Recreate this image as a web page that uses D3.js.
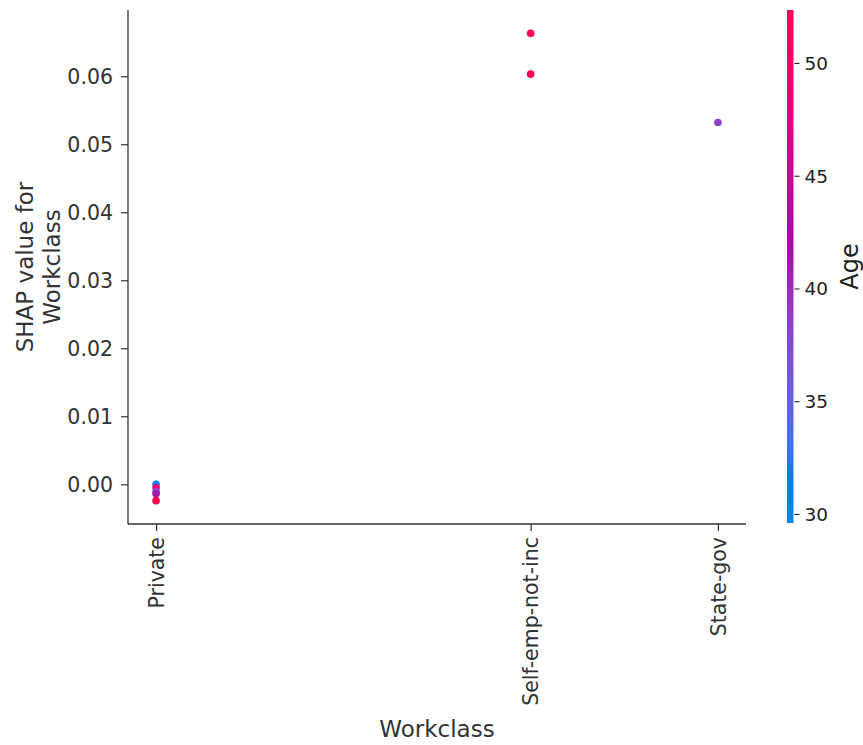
<!DOCTYPE html>
<html>
<head>
<meta charset="utf-8">
<script src="https://cdn.jsdelivr.net/npm/d3@7"></script>
<style>
  html, body { margin: 0; padding: 0; background: #fff; }
  svg { display: block; font-family: "DejaVu Sans", sans-serif; }
</style>
</head>
<body>
<svg id="chart" width="863" height="745"></svg>
<script>
// Workclass categories and their encoded positions on the x axis
const categories = ["Private", "Self-emp-not-inc", "State-gov"];
const categoryCodes = [4, 6, 7];

// One entry per sample: encoded workclass, SHAP value, age (colour)
const pointCodes = [4, 4, 4, 4, 4, 6, 6, 7];
const shapValues = [0.0000, -0.0005, -0.0011, -0.0014, -0.0024, 0.0663, 0.0603, 0.0532];
const ages = [31, 49, 37, 41, 52.3, 52.3, 52.3, 38.5];

// Tick values
const yTicks = [0.00, 0.01, 0.02, 0.03, 0.04, 0.05, 0.06];
const ageTicks = [30, 35, 40, 45, 50];
const ageRange = [29.6, 52.35];

const FONT = "DejaVu Sans";
const svg = d3.select("#chart");
const m = { left: 128, right: 746, top: 10, bottom: 524 };

// Axis domains padded by 5% like matplotlib autoscaling
function padded(ext) {
  const p = (ext[1] - ext[0]) * 0.05;
  return [ext[0] - p, ext[1] + p];
}
const x = d3.scaleLinear().domain(padded(d3.extent(pointCodes))).range([m.left, m.right]);
const y = d3.scaleLinear().domain(padded(d3.extent(shapValues))).range([m.bottom, m.top]);

// SHAP red-blue colormap: interpolate in CIE LCh
function redBlue(t) {
  t = Math.max(0, Math.min(1, t));
  const l = t < 0.5 ? 54 - 28 * t : 40 + 28 * (t - 0.5);
  const c = 70 + 20 * t;
  const hb = 4.6588 * 180 / Math.PI;
  const hr = (0.35470565 + 2 * Math.PI) * 180 / Math.PI;
  const h = hb + (hr - hb) * t;
  return d3.hcl(h, c, l).formatHex();
}
const color = d3.scaleSequential(redBlue).domain(ageRange);

const ink = "#333333";
const tickFont = 20.5;

// Y axis
const yAxis = d3.axisLeft(y).tickValues(yTicks).tickFormat(d3.format(".2f")).tickSize(7).tickPadding(8);
const gy = svg.append("g").attr("transform", `translate(${m.left},0)`).call(yAxis)
  .attr("font-family", FONT);
gy.select(".domain").remove();
gy.append("line").attr("x1", 0).attr("x2", 0).attr("y1", m.top).attr("y2", m.bottom)
  .attr("stroke", ink).attr("stroke-width", 1.3);
gy.selectAll(".tick line").attr("stroke", ink).attr("stroke-width", 1.2);
gy.selectAll(".tick text").attr("fill", ink).attr("font-size", tickFont).attr("dy", "0.35em");

// X axis with category names at their codes
const xAxis = d3.axisBottom(x).tickValues(categoryCodes)
  .tickFormat((d, i) => categories[i]).tickSize(7).tickPadding(5);
const gx = svg.append("g").attr("transform", `translate(0,${m.bottom})`).call(xAxis)
  .attr("font-family", FONT);
gx.select(".domain").remove();
gx.append("line").attr("x1", m.left).attr("x2", m.right).attr("y1", 0).attr("y2", 0)
  .attr("stroke", ink).attr("stroke-width", 1.3);
gx.selectAll(".tick line").attr("stroke", ink).attr("stroke-width", 1.2);
gx.selectAll(".tick text")
  .attr("fill", ink).attr("font-size", tickFont)
  .attr("transform", "rotate(-90)")
  .attr("text-anchor", "end")
  .attr("x", -13).attr("y", 0).attr("dy", "0.35em");

// Axis titles
svg.append("text").attr("x", (m.left + m.right) / 2).attr("y", 737)
  .attr("text-anchor", "middle").attr("fill", ink).attr("font-size", 23)
  .text("Workclass");
const yl = svg.append("text").attr("transform", `translate(0,${(m.top + m.bottom) / 2}) rotate(-90)`)
  .attr("text-anchor", "middle").attr("fill", ink).attr("font-size", 23);
yl.append("tspan").attr("x", 0).attr("y", 33).text("SHAP value for");
yl.append("tspan").attr("x", 0).attr("y", 60).text("Workclass");

// Points
svg.append("g").selectAll("circle")
  .data(shapValues.map((v, i) => ({ code: pointCodes[i], v, age: ages[i] })))
  .join("circle")
  .attr("cx", d => x(d.code))
  .attr("cy", d => y(d.v))
  .attr("r", 3.8)
  .attr("fill", d => color(d.age));

// Colour bar
const cb = { x: 787, w: 6.5, top: m.top, bottom: 523 };
const cy = d3.scaleLinear().domain(ageRange).range([cb.bottom, cb.top]);
const grad = svg.append("defs").append("linearGradient").attr("id", "ageGrad")
  .attr("x1", 0).attr("y1", 1).attr("x2", 0).attr("y2", 0);
d3.range(0, 1.0001, 0.02).forEach(t => {
  grad.append("stop").attr("offset", t).attr("stop-color", redBlue(t));
});
svg.append("rect").attr("x", cb.x).attr("y", cb.top).attr("width", cb.w)
  .attr("height", cb.bottom - cb.top).attr("fill", "url(#ageGrad)");
const cAxis = d3.axisRight(cy).tickValues(ageTicks).tickSize(5).tickPadding(5);
const gc = svg.append("g").attr("transform", `translate(${cb.x + cb.w + 1},0)`).call(cAxis)
  .attr("font-family", FONT);
gc.select(".domain").remove();
gc.selectAll(".tick line").attr("stroke", "#222").attr("stroke-width", 1.1);
gc.selectAll(".tick text").attr("fill", "#222").attr("font-size", 18.5).attr("dy", "0.35em");
svg.append("text").attr("transform", `translate(858,${(cb.top + cb.bottom) / 2}) rotate(-90)`)
  .attr("text-anchor", "middle").attr("fill", "#222").attr("font-size", 24)
  .text("Age");
</script>
</body>
</html>
